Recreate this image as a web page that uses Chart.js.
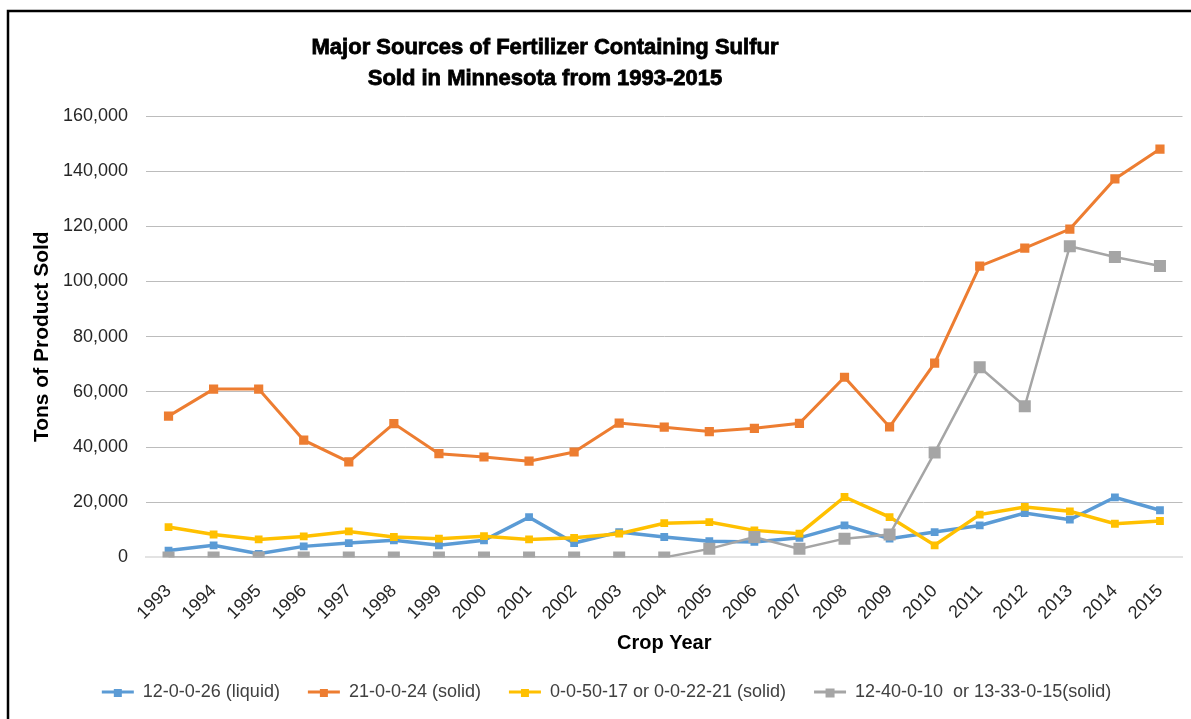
<!DOCTYPE html>
<html>
<head>
<meta charset="utf-8">
<title>Major Sources of Fertilizer Containing Sulfur</title>
<script src="https://cdn.jsdelivr.net/npm/chart.js@4.4.1/dist/chart.umd.min.js"></script>
<style>
  html, body { margin: 0; padding: 0; background: #fff; }
  canvas { display: block; }
</style>
</head>
<body>
<canvas id="jsSulfurCanvas" width="1191" height="719"></canvas>
<script>
// data (tons of product sold)
const years = ["1993", "1994", "1995", "1996", "1997", "1998", "1999", "2000", "2001", "2002", "2003",
  "2004", "2005", "2006", "2007", "2008", "2009", "2010", "2011", "2012", "2013", "2014", "2015"];

const liquid12_0_0_26 = [2500, 4400, 1300, 4000, 5200, 6200, 4400, 6200, 14600, 5200, 9200,
  7400, 5900, 5600, 7100, 11600, 6800, 9200, 11600, 16100, 13700, 21800, 17100];
const solid21_0_0_24 = [51200, 61000, 61000, 42500, 34600, 48500, 37600, 36400, 34900, 38200, 48700,
  47200, 45600, 46800, 48600, 65300, 47300, 70400, 105600, 112100, 119000, 137200, 148000];
const solid0_0_50_17 = [11000, 8300, 6500, 7600, 9400, 7400, 6800, 7700, 6500, 7100, 8600,
  12400, 12800, 9800, 8600, 21900, 14600, 4400, 15500, 18300, 16700, 12200, 13200];
const solid12_40_0_10 = [0, 0, 0, 0, 0, 0, 0, 0, 0, 0, 0,
  0, 3100, 7400, 3100, 6800, 8300, 38000, 68900, 54800, 112800, 108900, 105600];

const seriesNames = [
  "12-0-0-26 (liquid)",
  "21-0-0-24 (solid)",
  "0-0-50-17 or 0-0-22-21 (solid)",
  "12-40-0-10  or 13-33-0-15(solid)",
];

const yTickValues = [0, 20000, 40000, 60000, 80000, 100000, 120000, 140000, 160000];

const titleLines = [
  "Major Sources of Fertilizer Containing Sulfur",
  "Sold in Minnesota from 1993-2015",
];

const FONT = '"Liberation Sans", Arial, sans-serif';

const makeSeries = (label, data, color, lineWidth, markerRadius, order) => ({
  label,
  data,
  order,
  borderColor: color,
  backgroundColor: color,
  pointBackgroundColor: color,
  pointBorderColor: color,
  pointStyle: "rect",
  borderWidth: lineWidth,
  pointRadius: markerRadius,
  pointHoverRadius: markerRadius,
  pointBorderWidth: 0,
  tension: 0,
});

// frame, title and the little square markers in the legend
const frameAndTitle = {
  id: "frameAndTitle",
  afterDraw(chart) {
    const { ctx } = chart;
    ctx.save();
    ctx.strokeStyle = "#000";
    ctx.lineWidth = 2.5;
    ctx.strokeRect(8, 11, chart.width + 20, chart.height + 20);

    ctx.fillStyle = "#000";
    ctx.textAlign = "center";
    ctx.textBaseline = "middle";
    ctx.font = "bold 22px " + FONT;
    ctx.lineWidth = 0.8;
    titleLines.forEach((line, i) => {
      ctx.fillText(line, 545, 48 + i * 31);
      ctx.strokeText(line, 545, 48 + i * 31);
    });

    const legend = chart.legend;
    const boxWidth = legend.options.labels.boxWidth;
    const fontSize = legend.options.labels.font.size;
    legend.legendHitBoxes.forEach((hit, i) => {
      const item = legend.legendItems[i];
      const size = item.datasetIndex === 3 ? 9 : 8;
      ctx.fillStyle = item.strokeStyle;
      ctx.fillRect(hit.left + boxWidth / 2 - size / 2, hit.top + fontSize / 2 - size / 2 + 1, size, size);
    });
    ctx.restore();
  },
};

const sulfurChart = () => {
  const canvas = document.getElementById("jsSulfurCanvas").getContext("2d");

  new Chart(canvas, {
    type: "line",
    data: {
      labels: years,
      datasets: [
        makeSeries(seriesNames[0], liquid12_0_0_26, "#5b9bd5", 3.5, 5.5, 4),
        makeSeries(seriesNames[1], solid21_0_0_24, "#ed7d31", 3, 6.5, 3),
        makeSeries(seriesNames[2], solid0_0_50_17, "#ffc000", 3.5, 5.5, 2),
        makeSeries(seriesNames[3], solid12_40_0_10, "#a5a5a5", 2.5, 8.5, 1),
      ],
    },
    options: {
      responsive: false,
      animation: false,
      layout: {
        padding: { top: 116, left: 30, right: 8, bottom: 8 },
      },
      plugins: {
        title: { display: false },
        tooltip: { enabled: false },
        legend: {
          position: "bottom",
          labels: {
            boxWidth: 32,
            boxHeight: 3,
            padding: 28,
            color: "#404040",
            font: { size: 18, family: FONT },
            generateLabels: (chart) =>
              Chart.defaults.plugins.legend.labels
                .generateLabels(chart)
                .map((item) => ({ ...item, lineWidth: 0 }))
                .sort((a, b) => a.datasetIndex - b.datasetIndex),
          },
        },
      },
      scales: {
        x: {
          offset: true,
          grid: { display: false, drawTicks: false },
          border: { color: "#e3e3e3", width: 2 },
          ticks: {
            minRotation: 45,
            maxRotation: 45,
            padding: 23,
            color: "#262626",
            font: { size: 18, family: FONT },
          },
          title: {
            display: true,
            text: "Crop Year",
            color: "#000",
            font: { size: 20, weight: "bold", family: FONT },
            padding: { top: 0, bottom: 0 },
          },
          afterFit: (scale) => {
            scale.height -= 16;
            scale.paddingRight = 0;
          },
        },
        y: {
          min: 0,
          max: 160000,
          afterBuildTicks: (scale) => {
            scale.ticks = yTickValues.map((value) => ({ value }));
          },
          afterFit: (scale) => {
            scale.width = 116;
          },
          grid: { color: "#bcbcbc", drawTicks: false },
          border: { display: false },
          ticks: {
            padding: 18,
            color: "#262626",
            font: { size: 18, family: FONT },
            callback: (value) => value.toLocaleString("en-US"),
          },
          title: {
            display: true,
            text: "Tons of Product Sold",
            color: "#000",
            font: { size: 21, weight: "bold", family: FONT },
            padding: 0,
          },
        },
      },
    },
    plugins: [frameAndTitle],
  });
};

window.addEventListener("DOMContentLoaded", () => {
  sulfurChart();
});
</script>
</body>
</html>
